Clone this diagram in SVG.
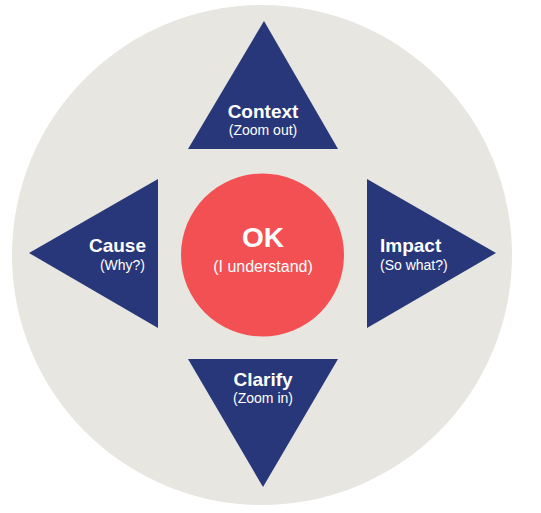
<svg xmlns="http://www.w3.org/2000/svg" width="541" height="513" viewBox="0 0 541 513">
<style>
.tri{fill:#28377A}
.t{fill:#FFFFFF;font-family:"Liberation Sans",Arial,sans-serif}
.h{font-weight:bold;font-size:19px}
.s{font-size:14px}
</style>
<rect width="541" height="513" fill="#FFFFFF"/>
<g id="background"><circle cx="262" cy="255" r="250" fill="#E7E6E0"/></g>
<g id="connectors"></g>
<g id="context">
<polygon class="tri" points="264,21 188,149 338,149"/>
<text class="t h" x="263" y="118" text-anchor="middle">Context</text>
<text class="t s" x="263" y="135" text-anchor="middle">(Zoom out)</text>
</g>
<g id="cause">
<polygon class="tri" points="29,253 158,179 158,328"/>
<text class="t h" x="146" y="252" text-anchor="end">Cause</text>
<text class="t s" x="145" y="270" text-anchor="end">(Why?)</text>
</g>
<g id="impact">
<polygon class="tri" points="367,179 367,328 496,253"/>
<text class="t h" x="380" y="252">Impact</text>
<text class="t s" x="380" y="270">(So what?)</text>
</g>
<g id="clarify">
<polygon class="tri" points="188,359 338,359 263,487"/>
<text class="t h" x="263" y="386" text-anchor="middle">Clarify</text>
<text class="t s" x="263" y="403" text-anchor="middle">(Zoom in)</text>
</g>
<g id="ok">
<circle cx="262.5" cy="255" r="81.5" fill="#F35053"/>
<text class="t" x="263" y="247" text-anchor="middle" font-weight="bold" font-size="28">OK</text>
<text class="t" x="263" y="272" text-anchor="middle" font-size="16">(I understand)</text>
</g>
</svg>
